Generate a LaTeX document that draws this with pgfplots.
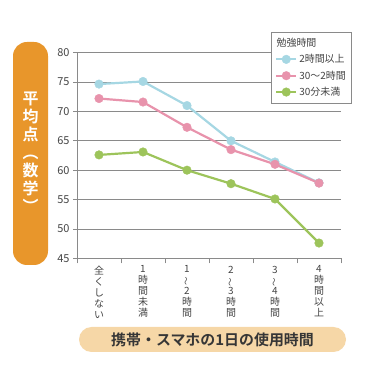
\documentclass[border=0pt]{standalone}
\usepackage{pgfplots}
\pgfplotsset{compat=1.18}
\usepackage{fontspec}
\setmainfont{Noto Sans CJK JP}[BoldFont={Noto Sans CJK JP Bold}]
\usepackage{graphicx}
\definecolor{orangec}{HTML}{E8962B}
\definecolor{peachc}{HTML}{F6D7A7}
\definecolor{bluec}{HTML}{A6D7E3}
\definecolor{pinkc}{HTML}{E893AC}
\definecolor{greenc}{HTML}{9DC45B}
\definecolor{gridc}{HTML}{8A8A8A}
\definecolor{txtc}{HTML}{444444}
\newcommand{\vt}{\rotatebox[origin=c]{90}{\fontsize{8.5}{8.5}\selectfont ～}}
\begin{document}
\begin{tikzpicture}
\useasboundingbox (0bp,0bp) rectangle (373bp,373bp);
\fill[orangec, rounded corners=14bp] (13bp,108bp) rectangle (48bp,331bp);
\node[text=white, font=\fontsize{16}{18}\selectfont\bfseries, align=center, inner sep=0pt] at (30.5bp,221bp) {平\\均\\点\\︵\\数\\学\\︶};
\fill[peachc, rounded corners=12.5bp] (79bp,21bp) rectangle (346bp,46bp);
\node[text=txtc!80!black, font=\fontsize{15}{17}\selectfont\bfseries, inner sep=0pt] at (212.5bp,33.5bp) {携帯・スマホの1日の使用時間};
\begin{axis}[
  at={(77bp,114.7bp)}, anchor=south west,
  scale only axis, width=264bp, height=205.6bp,
  xmin=-0.5, xmax=5.5, ymin=45, ymax=80,
  axis lines=left, axis line style={-, gridc, line width=0.7pt},
  ymajorgrids, grid style={gridc, line width=0.7pt},
  ytick={45,50,...,80},
  xtick={0,...,5},
  xticklabels={{全\\く\\し\\な\\い},{1\\時\\間\\未\\満},{1\\\vt\\2\\時\\間},{2\\\vt\\3\\時\\間},{3\\\vt\\4\\時\\間},{4\\時\\間\\以\\上}},
  major x tick style={draw=none},
  minor xtick={-0.5,0.5,...,5.5},
  tick align=outside, major tick length=4bp, minor tick length=5bp,
  tick style={gridc, line width=0.7pt},
  /pgf/number format/assume math mode=true,
  yticklabel style={font=\fontsize{11}{13}\selectfont, text=txtc},
  xticklabel style={align=center, font=\fontsize{10}{11}\selectfont, text=txtc, anchor=north},
  legend cell align=left,
  legend style={at={(1.042,1.102)}, anchor=north east, draw=gridc, line width=0.7pt, font=\fontsize{10}{12}\selectfont, text=txtc, row sep=2.5pt, inner xsep=4pt, inner ysep=4pt},
  legend image code/.code={\draw[mark repeat=2,mark phase=2] plot coordinates {(0cm,0cm)(0.35cm,0cm)(0.7cm,0cm)};},
]
\addlegendimage{empty legend}
\addlegendentry{\hspace*{-0.8cm}勉強時間}
\addplot[color=bluec, line width=2.2bp, mark=*, mark size=4.3bp, mark options={fill=bluec, draw=bluec, line width=0.4pt}] coordinates {(0,74.66) (1,75.1) (2,71.0) (3,65.0) (4,61.4) (5,57.85)};
\addlegendentry{2時間以上}
\addplot[color=pinkc, line width=2.2bp, mark=*, mark size=4.3bp, mark options={fill=pinkc, draw=pinkc, line width=0.4pt}] coordinates {(0,72.2) (1,71.6) (2,67.3) (3,63.5) (4,61.0) (5,57.8)};
\addlegendentry{30～2時間}
\addplot[color=greenc, line width=2.2bp, mark=*, mark size=4.3bp, mark options={fill=greenc, draw=greenc, line width=0.4pt}] coordinates {(0,62.6) (1,63.1) (2,60.0) (3,57.7) (4,55.1) (5,47.6)};
\addlegendentry{30分未満}
\end{axis}
\end{tikzpicture}
\end{document}
